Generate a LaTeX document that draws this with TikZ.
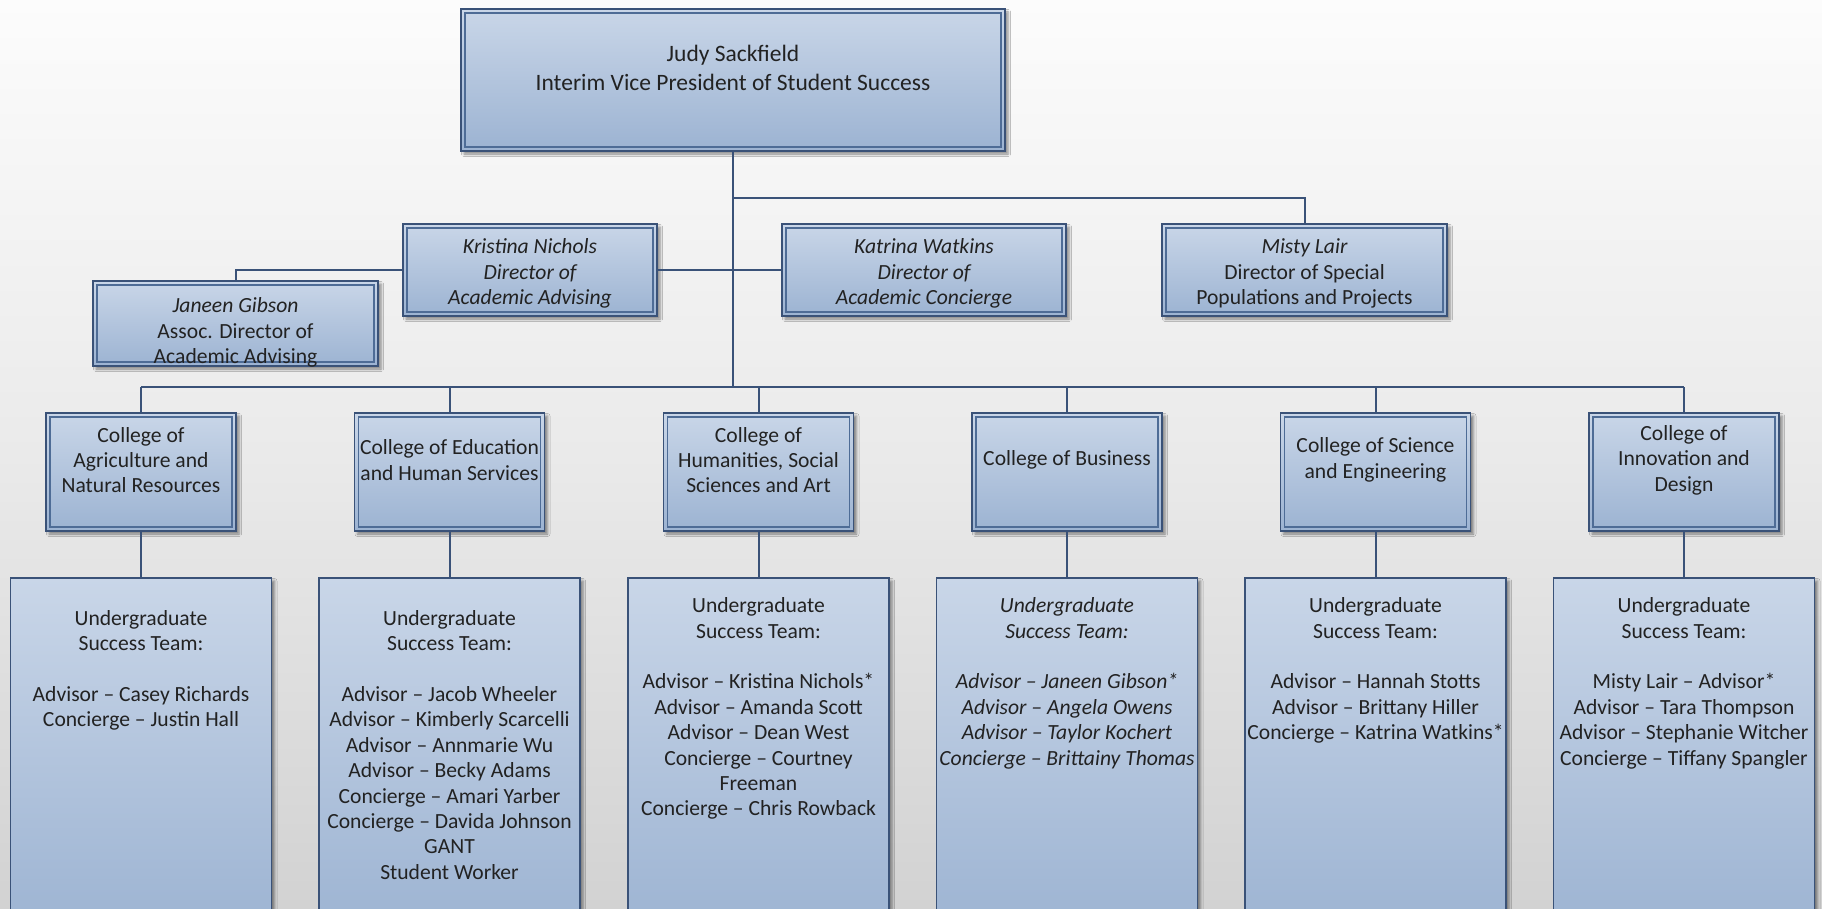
\documentclass[tikz,border=0pt]{standalone}
\usepackage{fontspec}
\setmainfont{Carlito}
\usetikzlibrary{shadows.blur}
\definecolor{bgtop}{HTML}{FCFCFC}
\definecolor{bgmid}{HTML}{EAEAEA}
\definecolor{bgbot}{HTML}{D2D2D2}
\definecolor{boxtop}{HTML}{C9D6E8}
\definecolor{boxbot}{HTML}{9CB3D2}
\definecolor{edge}{HTML}{3A5278}
\definecolor{inedge}{HTML}{4E6C96}
\definecolor{txtc}{HTML}{222222}
\begin{document}
\begin{tikzpicture}[x=1pt,y=-1pt,
  shad/.style={blur shadow={shadow xshift=3pt, shadow yshift=-3pt, shadow blur radius=2.5pt, shadow opacity=45}},
  box/.style={draw=edge, line width=1.8pt, top color=boxtop, bottom color=boxbot, inner sep=0pt, outer sep=0pt, shad},
  tbox/.style={draw=edge, line width=1.6pt, top color=boxtop, bottom color=boxbot, inner sep=0pt, outer sep=0pt, shad},
  innerline/.style={draw=inedge, line width=1.1pt},
  conn/.style={draw=edge, line width=2pt},
  lbl/.style={align=center, text=txtc, inner sep=0pt, font=\fontsize{21.6}{25.4}\selectfont},
  toplbl/.style={align=center, text=txtc, inner sep=0pt, font=\fontsize{23.5}{29}\selectfont}
]
\useasboundingbox (0,0) rectangle (1822,909);
\shade[top color=bgtop, bottom color=bgbot, middle color=bgmid] (0,0) rectangle (1822,909);
\clip (0,0) rectangle (1822,909);

% junction coordinates
\coordinate (j1) at (733,198);
\coordinate (bus) at (733,387);

% boxes
\node[box, minimum width=544pt, minimum height=142pt] (top) at (733,80) {};
\node[box, minimum width=254pt, minimum height=92pt] (kn) at (530,270) {};
\node[box, minimum width=284pt, minimum height=92pt] (kw) at (924,270) {};
\node[box, minimum width=285pt, minimum height=92pt] (ml) at (1304.5,270) {};
\node[box, minimum width=285pt, minimum height=85pt] (jg) at (235.5,323.5) {};

\foreach \i/\x in {1/141,2/449.5,3/758.5,4/1067,5/1375.5,6/1684}{
  \node[box, minimum width=190pt, minimum height=118pt] (c\i) at (\x,472) {};
  \node[tbox, minimum width=261pt, minimum height=357pt] (t\i) at (\x,756.5) {};
}

% inner frames
\foreach \n in {top,kn,kw,ml,jg,c1,c2,c3,c4,c5,c6}{
  \draw[innerline] ([shift={(4,4)}]\n.north west) rectangle ([shift={(-4,-4)}]\n.south east);
}

% connectors
\draw[conn] (top.south) -- (bus);
\draw[conn] (j1) -| (ml.north);
\draw[conn] (kn.east) -- (kw.west);
\draw[conn] (kn.west) -| (jg.north);
\draw[conn] (c1.north |- bus) -- (c6.north |- bus);
\foreach \i in {1,...,6}{
  \draw[conn] (c\i.north |- bus) -- (c\i.north);
  \draw[conn] (c\i.south) -- (t\i.north);
}

% texts
\node[toplbl] (topT) at (733,67.5) {Judy Sackfield\\Interim Vice President of Student Success};
\node[lbl] (knT) at (530,273.5) {\itshape Kristina Nichols\\\itshape Director of\\\itshape Academic Advising};
\node[lbl] (kwT) at (924,273.5) {\itshape Katrina Watkins\\\itshape Director of\\\itshape Academic Concierge};
\node[lbl] (mlT) at (1304.5,273.5) {\itshape Misty Lair\\Director of Special\\Populations and Projects};
\node[lbl] (jgT) at (235.5,332.5) {\itshape Janeen Gibson\\Assoc. Director of\\Academic Advising};

\node[lbl] (c1T) at (141,460) {College of\\Agriculture and\\Natural Resources};
\node[lbl] (c2T) at (449.5,460) {College of Education\\and Human Services};
\node[lbl] (c3T) at (758.5,460) {College of\\Humanities, Social\\Sciences and Art};
\node[lbl] (c4T) at (1067,460) {College of Business};
\node[lbl] (c5T) at (1375.5,460) {College of Science\\and Engineering};
\node[lbl] (c6T) at (1684,460) {College of\\Innovation and\\Design};

\node[lbl, anchor=north] (t1T) at (141,610) {Undergraduate\\Success Team:\\[25.4pt]Advisor – Casey Richards\\Concierge – Justin Hall};
\node[lbl, anchor=north] (t2T) at (449.5,610) {Undergraduate\\Success Team:\\[25.4pt]Advisor – Jacob Wheeler\\Advisor – Kimberly Scarcelli\\Advisor – Annmarie Wu\\Advisor – Becky Adams\\Concierge – Amari Yarber\\Concierge – Davida Johnson\\GANT\\Student Worker};
\node[lbl, anchor=north] (t3T) at (758.5,597.5) {Undergraduate\\Success Team:\\[25.4pt]Advisor – Kristina Nichols*\\Advisor – Amanda Scott\\Advisor – Dean West\\Concierge – Courtney\\Freeman\\Concierge – Chris Rowback};
\node[lbl, anchor=north] (t4T) at (1067,597.5) {\itshape Undergraduate\\\itshape Success Team:\\[25.4pt]\itshape Advisor – Janeen Gibson*\\\itshape Advisor – Angela Owens\\\itshape Advisor – Taylor Kochert\\\itshape Concierge – Brittainy Thomas};
\node[lbl, anchor=north] (t5T) at (1375.5,597.5) {Undergraduate\\Success Team:\\[25.4pt]Advisor – Hannah Stotts\\Advisor – Brittany Hiller\\Concierge – Katrina Watkins*};
\node[lbl, anchor=north] (t6T) at (1684,597.5) {Undergraduate\\Success Team:\\[25.4pt]Misty Lair – Advisor*\\Advisor – Tara Thompson\\Advisor – Stephanie Witcher\\Concierge – Tiffany Spangler};
\end{tikzpicture}
\end{document}
